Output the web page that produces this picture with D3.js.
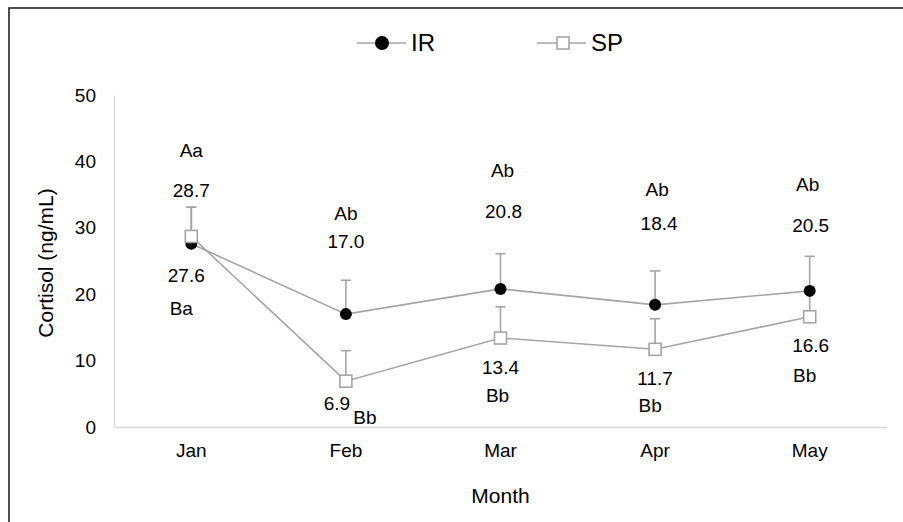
<!DOCTYPE html>
<html>
<head>
<meta charset="utf-8">
<script src="https://cdn.jsdelivr.net/npm/d3@7"></script>
<style>
  body { margin: 0; background: #fff; }
  svg { font-family: "Liberation Sans", Arial, sans-serif; }
</style>
</head>
<body>
<svg id="chart"></svg>
<script>
// data
const months = ["Jan", "Feb", "Mar", "Apr", "May"];
const seriesNames = ["IR", "SP"];
const irMean = [27.6, 17.0, 20.8, 18.4, 20.5];
const irSD = [5.5, 5.1, 5.3, 5.1, 5.2];
const spMean = [28.7, 6.9, 13.4, 11.7, 16.6];
const spSD = [4.4, 4.6, 4.7, 4.6, 4.5];
const yTicks = [0, 10, 20, 30, 40, 50];
// annotation texts
const upperLetters = ["Aa", "Ab", "Ab", "Ab", "Ab"];
const upperValues = ["28.7", "17.0", "20.8", "18.4", "20.5"];
const lowerValues = ["27.6", "6.9", "13.4", "11.7", "16.6"];
const lowerLetters = ["Ba", "Bb", "Bb", "Bb", "Bb"];

// label placement (data units for y, px offsets for x)
const labelLayout = {
    upperLetters: { y: [41.7, 32.2, 38.6, 35.8, 36.6], dx: [0, 0, 2, 2, -2] },
    upperValues:  { y: [35.7, 27.9, 32.5, 30.6, 30.3], dx: [0, 0, 3, 4, 1] },
    lowerValues:  { y: [22.9, 3.6, 9.0, 7.4, 12.3], dx: [-5, -9, 0, 0, 1] },
    lowerLetters: { y: [17.8, 1.4, 4.7, 3.3, 7.8], dx: [-10, 19, -3, -5, -5] }
};

const W = 903, H = 522;
const plot = { left: 114, right: 887, top: 95, bottom: 427 };
const grey = "#a5a5a5";
const fs = 19;

const svg = d3.select("#chart").attr("width", W).attr("height", H);

// outer border (only top/left visible in the crop)
svg.append("rect")
    .attr("x", 9).attr("y", 8)
    .attr("width", W + 20).attr("height", H + 20)
    .attr("fill", "none")
    .attr("stroke", "#222")
    .attr("stroke-width", 1.6);

const x = d3.scaleBand().domain(months).range([plot.left, plot.right]);
const cx = m => x(m) + x.bandwidth() / 2;
const y = d3.scaleLinear().domain([0, 50]).range([plot.bottom, plot.top]);

// axes
const yAxis = svg.append("g")
    .attr("transform", `translate(${plot.left},0)`)
    .call(d3.axisLeft(y).tickValues(yTicks).tickSize(0).tickPadding(18));
yAxis.select(".domain").attr("stroke", "#d9d9d9").attr("stroke-width", 1.3);
yAxis.selectAll("text").attr("font-size", fs).attr("fill", "#000");

const xAxis = svg.append("g")
    .attr("transform", `translate(0,${plot.bottom})`)
    .call(d3.axisBottom(x).tickSize(0).tickPadding(17));
xAxis.select(".domain").attr("stroke", "#d9d9d9").attr("stroke-width", 1.3);
xAxis.selectAll("text").attr("font-size", fs).attr("fill", "#000");

// axis titles
svg.append("text")
    .attr("transform", `translate(46,${(plot.top + plot.bottom) / 2 + 2}) rotate(-90)`)
    .attr("text-anchor", "middle")
    .attr("dy", "0.35em")
    .attr("font-size", 21)
    .text("Cortisol (ng/mL)");

svg.append("text")
    .attr("x", (plot.left + plot.right) / 2)
    .attr("y", 496)
    .attr("text-anchor", "middle")
    .attr("dy", "0.35em")
    .attr("font-size", 21)
    .text("Month");

const ir = months.map((m, i) => ({ m, v: irMean[i], sd: irSD[i] }));
const sp = months.map((m, i) => ({ m, v: spMean[i], sd: spSD[i] }));

const line = d3.line().x(d => cx(d.m)).y(d => y(d.v));

// error bars (upper only)
function errorBars(data, cls) {
    const g = svg.append("g").attr("class", cls)
        .attr("stroke", grey).attr("stroke-width", 1.6);
    g.selectAll("line.v").data(data).join("line")
        .attr("class", "v")
        .attr("x1", d => cx(d.m)).attr("x2", d => cx(d.m))
        .attr("y1", d => y(d.v)).attr("y2", d => y(d.v + d.sd));
    g.selectAll("line.cap").data(data).join("line")
        .attr("class", "cap")
        .attr("x1", d => cx(d.m) - 5).attr("x2", d => cx(d.m) + 5)
        .attr("y1", d => y(d.v + d.sd)).attr("y2", d => y(d.v + d.sd));
}
errorBars(sp, "err-sp");
errorBars(ir, "err-ir");

// lines
svg.append("path").datum(sp).attr("d", line)
    .attr("fill", "none").attr("stroke", grey).attr("stroke-width", 1.6);
svg.append("path").datum(ir).attr("d", line)
    .attr("fill", "none").attr("stroke", grey).attr("stroke-width", 1.6);

// markers
svg.append("g").selectAll("circle").data(ir).join("circle")
    .attr("cx", d => cx(d.m)).attr("cy", d => y(d.v))
    .attr("r", 6).attr("fill", "#000");

svg.append("g").selectAll("rect").data(sp).join("rect")
    .attr("x", d => cx(d.m) - 6).attr("y", d => y(d.v) - 6)
    .attr("width", 12).attr("height", 12)
    .attr("fill", "#fff").attr("stroke", grey).attr("stroke-width", 1.6);

// annotations
function labels(texts, layout) {
    svg.append("g").selectAll("text").data(texts).join("text")
        .attr("x", (t, i) => cx(months[i]) + layout.dx[i])
        .attr("y", (t, i) => y(layout.y[i]))
        .attr("dy", "0.35em")
        .attr("text-anchor", "middle")
        .attr("font-size", fs)
        .text(t => t);
}
labels(upperLetters, labelLayout.upperLetters);
labels(upperValues, labelLayout.upperValues);
labels(lowerValues, labelLayout.lowerValues);
labels(lowerLetters, labelLayout.lowerLetters);

// legend
const legendX = [357, 537];
const legend = svg.append("g");
seriesNames.forEach((name, i) => {
    const g = legend.append("g").attr("transform", `translate(${legendX[i]},43)`);
    g.append("line").attr("x1", 0).attr("x2", 49)
        .attr("stroke", grey).attr("stroke-width", 1.6);
    if (name === "IR") {
        g.append("circle").attr("cx", 25).attr("r", 7).attr("fill", "#000");
    } else {
        g.append("rect").attr("x", 20).attr("y", -6).attr("width", 12).attr("height", 12)
            .attr("fill", "#fff").attr("stroke", grey).attr("stroke-width", 1.6);
    }
    g.append("text").attr("x", 54).attr("dy", "0.35em")
        .attr("font-size", 24).text(name);
});
</script>
</body>
</html>
